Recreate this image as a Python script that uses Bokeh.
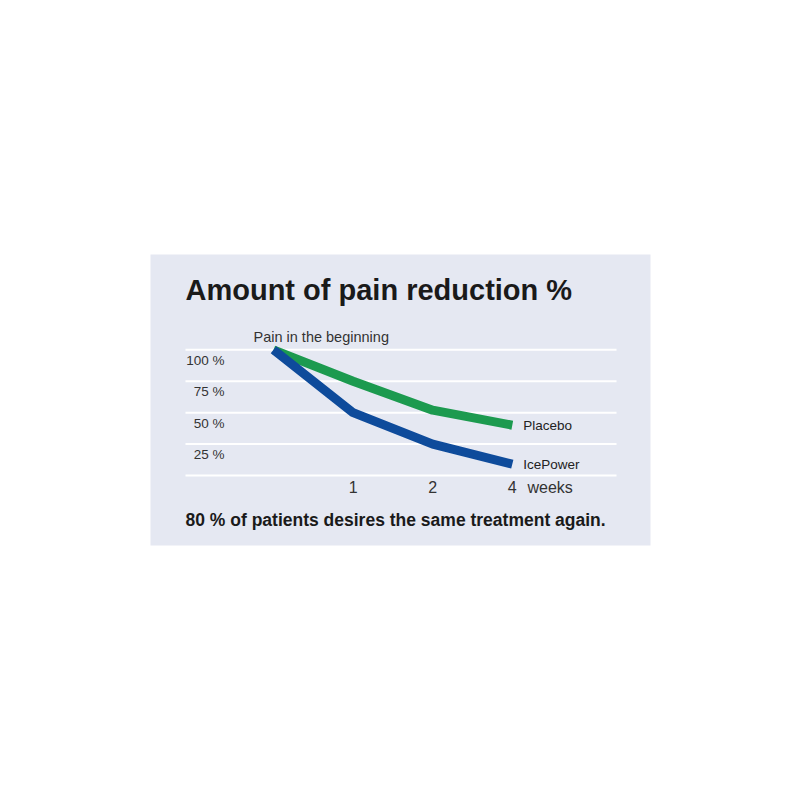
from bokeh.plotting import figure
from bokeh.models import Range1d
from bokeh.core.properties import value
from bokeh.embed import file_html
from bokeh.resources import INLINE

# ---- data ----
x_pos = [0, 1, 2, 3]
week_tick_pos = [1, 2, 3]
week_labels = ["1", "2", "4"]
placebo = [100, 75, 52, 40]
icepower = [100, 50, 25, 9]
y_ticks = [100, 75, 50, 25]
y_tick_labels = ["100 %", "75 %", "50 %", "25 %"]
grid_vals = [0, 25, 50, 75, 100]
title_text = "Amount of pain reduction %"
footer_text = "80 % of patients desires the same treatment again."
start_text = "Pain in the beginning"
unit_text = "weeks"

# ---- layout (picture pixels) ----
PAGE_OFF = 0
W, H = 784, 784
FL, FR, FT, FB = 150, 650, 254, 545
X0_PX, X_PER = 273.0, 79.6
Y0_PX, Y_PER = 475.0, 1.2568
BASE_SHIFT = 0.32  # baseline correction in em


def dx(px):
    return (px - X0_PX) / X_PER


def dy(py):
    return (Y0_PX - py) / Y_PER


def by(py, fs):
    return dy(py - BASE_SHIFT * fs)


p = figure(width=W, height=H, output_backend="svg", toolbar_location=None,
           x_range=Range1d(dx(FL), dx(FR)), y_range=Range1d(dy(FB), dy(FT)),
           min_border_left=FL - PAGE_OFF, min_border_right=W - (FR - PAGE_OFF),
           min_border_top=FT - PAGE_OFF, min_border_bottom=H - (FB - PAGE_OFF))
p.xaxis.visible = False
p.yaxis.visible = False
p.grid.visible = False
p.outline_line_color = None
p.background_fill_color = "#e5e8f2"
p.border_fill_color = "white"

FONT = value("Liberation Sans")

# gridlines
p.segment(x0=[dx(185)] * len(grid_vals), x1=[dx(616)] * len(grid_vals),
          y0=grid_vals, y1=grid_vals, line_color="white", line_width=2)

# lines
p.line(x_pos, placebo, line_color="#1c9a4f", line_width=9)
p.line(x_pos, icepower, line_color="#0e4b9b", line_width=9)

# y tick labels (baseline ~15px below gridline)
p.text(x=[dx(224)] * len(y_ticks), y=[v - (15 - BASE_SHIFT * 13.5) / Y_PER for v in y_ticks],
       text=y_tick_labels,
       text_font=FONT, text_font_size="13.5px", text_color="#333333",
       text_align="right", text_baseline="alphabetic")

# x tick labels
p.text(x=week_tick_pos, y=[by(491.7, 16)] * len(week_tick_pos), text=week_labels,
       text_font=FONT, text_font_size="16px", text_color="#333333",
       text_align="center", text_baseline="alphabetic")
p.text(x=[dx(527)], y=[by(491.7, 16)], text=[unit_text],
       text_font=FONT, text_font_size="16px", text_color="#333333",
       text_align="left", text_baseline="alphabetic")

# series labels
p.text(x=[dx(522.7)], y=[by(429.3, 13.5)], text=["Placebo"],
       text_font=FONT, text_font_size="13.5px", text_color="#222222",
       text_align="left", text_baseline="alphabetic")
p.text(x=[dx(522.7)], y=[by(468.3, 13.5)], text=["IcePower"],
       text_font=FONT, text_font_size="13.5px", text_color="#222222",
       text_align="left", text_baseline="alphabetic")

# start label
p.text(x=[dx(253)], y=[by(340.7, 14.5)], text=[start_text],
       text_font=FONT, text_font_size="14.5px", text_color="#333333",
       text_align="left", text_baseline="alphabetic")

# title
p.text(x=[dx(185)], y=[by(298.3, 29)], text=[title_text],
       text_font=FONT, text_font_size="29px", text_font_style="bold", text_color="#1a1a1a",
       text_align="left", text_baseline="alphabetic")

# footer
p.text(x=[dx(185)], y=[by(525, 17.5)], text=[footer_text],
       text_font=FONT, text_font_size="17.5px", text_font_style="bold", text_color="#1a1a1a",
       text_align="left", text_baseline="alphabetic")

open("out.html", "w").write(file_html(p, INLINE))
